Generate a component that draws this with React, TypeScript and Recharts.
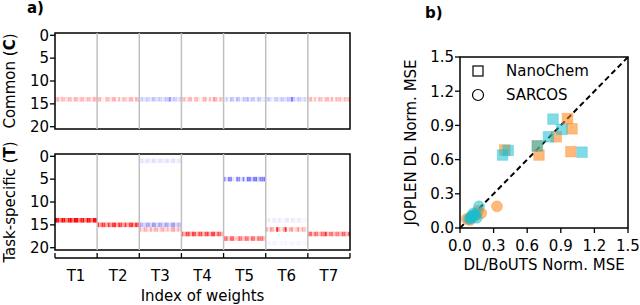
import React from 'react';
import {
  ScatterChart,
  Scatter,
  XAxis,
  YAxis,
  ReferenceArea,
  ReferenceLine,
  Label,
  Legend,
} from 'recharts';

// ---------------- data: panel a (heatmaps) ----------------
const taskLabels = ['T1', 'T2', 'T3', 'T4', 'T5', 'T6', 'T7'];
const colsPerTask = 20;
const rowTicks = [0, 5, 10, 15, 20];
const sectionBounds = [0, 20, 40, 60, 80, 100, 120, 140];
const sectionCenters = [10, 30, 50, 70, 90, 110, 130];
const separators = [20, 40, 60, 80, 100, 120];

type Band = { task: number; row: number; values: number[] };

// common weights (C), row 14 in every task
const commonT1 = [0.22, 0.32, 0.12, 0.3, 0.25, 0.1, 0.3, 0.28, 0.08, 0.3, 0.25, 0.12, 0.3, 0.28, 0.1, 0.3, 0.25, 0.1, 0.3, 0.25];
const commonT2 = [0.25, 0.3, 0.08, 0.05, 0.3, 0.25, 0.1, 0.3, 0.28, 0.05, 0.3, 0.08, 0.3, 0.25, 0.1, 0.28, 0.3, 0.08, 0.3, 0.25];
const commonT3 = [-0.15, -0.22, -0.1, -0.22, -0.18, -0.1, -0.25, -0.18, -0.12, -0.22, -0.18, -0.1, -0.25, -0.2, -0.45, -0.12, -0.22, -0.18, -0.1, -0.2];
const commonT4 = [0.25, 0.3, 0.08, 0.28, 0.3, 0.05, 0.25, 0.3, 0.1, 0.05, 0.3, 0.35, 0.05, 0.28, 0.1, 0.4, 0.3, 0.08, 0.3, 0.2];
const commonT5 = [-0.08, -0.2, -0.05, -0.25, -0.2, -0.08, -0.3, -0.22, -0.05, -0.25, -0.2, -0.3, -0.1, -0.22, -0.2, -0.05, -0.25, -0.2, -0.08, -0.1];
const commonT6 = [-0.15, -0.22, -0.1, -0.05, -0.2, -0.22, -0.1, -0.25, -0.2, -0.12, -0.25, -0.2, -0.5, -0.22, -0.1, -0.25, -0.2, -0.1, -0.18, -0.1];
const commonT7 = [0.2, 0.3, 0.08, 0.25, 0.05, 0.3, 0.25, 0.08, 0.28, 0.3, 0.1, 0.3, 0.05, 0.28, 0.25, 0.3, 0.08, 0.28, 0.2, 0.25];

const commonBands: Band[] = [
  { task: 0, row: 14, values: commonT1 },
  { task: 1, row: 14, values: commonT2 },
  { task: 2, row: 14, values: commonT3 },
  { task: 3, row: 14, values: commonT4 },
  { task: 4, row: 14, values: commonT5 },
  { task: 5, row: 14, values: commonT6 },
  { task: 6, row: 14, values: commonT7 },
];

// task-specific weights (T)
const specT1r14 = [1, 0.9, 0.5, 1, 0.95, 0.5, 0.9, 1, 0.55, 0.95, 1, 0.5, 0.9, 0.95, 0.45, 1, 0.9, 0.5, 0.95, 1];
const specT2r15 = [0.8, 0.4, 0.8, 0.75, 0.35, 0.8, 0.4, 0.75, 0.8, 0.35, 0.8, 0.75, 0.4, 0.8, 0.35, 0.75, 0.8, 0.4, 0.8, 0.7];
const specT3r1 = [-0.08, -0.12, -0.04, -0.12, -0.1, -0.04, -0.12, -0.1, -0.04, -0.1, -0.12, -0.04, -0.1, -0.12, -0.04, -0.1, -0.12, -0.04, -0.08, -0.1];
const specT3r15 = [-0.38, -0.3, -0.15, -0.35, -0.38, -0.15, -0.4, -0.35, -0.15, -0.38, -0.35, -0.15, -0.4, -0.32, -0.15, -0.35, -0.38, -0.15, -0.3, -0.25];
const specT3r16 = [0.32, 0.12, 0.35, 0.3, 0.1, 0.35, 0.12, 0.3, 0.32, 0.1, 0.3, 0.35, 0.12, 0.3, 0.1, 0.32, 0.35, 0.12, 0.3, 0.2];
const specT4r17 = [0.7, 0.3, 0.75, 0.7, 0.3, 0.75, 0.65, 0.3, 0.7, 0.75, 0.3, 0.7, 0.75, 0.3, 0.7, 0.75, 0.3, 0.7, 0.6, 0.3];
const specT5r5 = [-0.5, -0.1, -0.5, -0.45, -0.1, -0.05, -0.5, -0.45, -0.1, -0.5, -0.05, -0.55, -0.5, -0.2, -0.5, -0.55, -0.2, -0.5, -0.5, -0.55];
const specT5r18 = [0.6, 0.6, 0.2, 0.6, 0.6, 0.2, 0.25, 0.6, 0.55, 0.2, 0.6, 0.55, 0.2, 0.6, 0.55, 0.2, 0.6, 0.55, 0.6, 0.2];
const specT6r14 = [-0.04, -0.08, -0.02, -0.06, -0.08, -0.02, -0.1, -0.06, -0.02, -0.08, -0.1, -0.02, -0.08, -0.06, -0.02, -0.08, -0.06, -0.02, -0.03, -0.02];
const specT6r16 = [0.35, 0.1, 0.4, 0.3, 0.1, 0.9, 0.3, 0.1, 0.35, 0.85, 0.1, 0.3, 0.4, 0.1, 0.2, 0.45, 0.1, 0.35, 0.25, 0.1];
const specT6r19 = [-0.03, -0.04, -0.01, -0.03, -0.05, -0.01, -0.02, -0.04, -0.01, -0.05, -0.02, -0.01, -0.04, -0.02, -0.01, -0.05, -0.03, -0.01, -0.03, -0.02];
const specT7r17 = [0.55, 0.6, 0.25, 0.6, 0.55, 0.25, 0.6, 0.55, 0.85, 0.25, 0.5, 0.55, 0.25, 0.5, 0.55, 0.25, 0.65, 0.6, 0.25, 0.6];

const specificBands: Band[] = [
  { task: 0, row: 14, values: specT1r14 },
  { task: 1, row: 15, values: specT2r15 },
  { task: 2, row: 1, values: specT3r1 },
  { task: 2, row: 15, values: specT3r15 },
  { task: 2, row: 16, values: specT3r16 },
  { task: 3, row: 17, values: specT4r17 },
  { task: 4, row: 5, values: specT5r5 },
  { task: 4, row: 18, values: specT5r18 },
  { task: 5, row: 14, values: specT6r14 },
  { task: 5, row: 16, values: specT6r16 },
  { task: 5, row: 19, values: specT6r19 },
  { task: 6, row: 17, values: specT7r17 },
];

// ---------------- data: panel b (scatter) ----------------
const nanoDL = [
  { x: 0.96, y: 0.96 },
  { x: 1.0, y: 0.87 },
  { x: 0.86, y: 0.8 },
  { x: 0.69, y: 0.72 },
  { x: 0.705, y: 0.64 },
  { x: 0.4, y: 0.685 },
  { x: 0.99, y: 0.67 },
];
const nanoBoUTS = [
  { x: 0.83, y: 0.955 },
  { x: 0.91, y: 0.865 },
  { x: 0.79, y: 0.8 },
  { x: 0.69, y: 0.72 },
  { x: 0.38, y: 0.64 },
  { x: 0.43, y: 0.68 },
  { x: 1.09, y: 0.665 },
];
const sarcosDL = [
  { x: 0.06, y: 0.08 },
  { x: 0.1, y: 0.1 },
  { x: 0.14, y: 0.11 },
  { x: 0.19, y: 0.13 },
  { x: 0.16, y: 0.15 },
  { x: 0.33, y: 0.19 },
  { x: 0.09, y: 0.07 },
];
const sarcosBoUTS = [
  { x: 0.08, y: 0.08 },
  { x: 0.1, y: 0.1 },
  { x: 0.12, y: 0.11 },
  { x: 0.14, y: 0.12 },
  { x: 0.15, y: 0.09 },
  { x: 0.17, y: 0.19 },
  { x: 0.12, y: 0.13 },
  { x: 0.1, y: 0.085 },
];
const scatterTicks = [0, 0.3, 0.6, 0.9, 1.2, 1.5];
const legendItems = [
  { name: 'NanoChem', shape: 'square' },
  { name: 'SARCOS', shape: 'circle' },
];

// ---------------- helpers ----------------
const FONT = '"DejaVu Sans", sans-serif';
const ORANGE = '#ff7f0e';
const CYAN = '#17becf';

function bwr(v: number): string {
  const m = Math.min(1, Math.abs(v));
  const c = Math.round(255 * (1 - m));
  return v >= 0 ? `rgb(255,${c},${c})` : `rgb(${c},${c},255)`;
}

function bandCells(bands: Band[]) {
  const out: { x1: number; x2: number; y1: number; y2: number; color: string; key: string }[] = [];
  bands.forEach((b) => {
    b.values.forEach((v, c) => {
      const x1 = b.task * colsPerTask + c;
      out.push({ x1, x2: x1 + 1, y1: b.row - 0.5, y2: b.row + 0.5, color: bwr(v), key: `${b.task}-${b.row}-${c}` });
    });
  });
  return out;
}

const RotatedTitle = (props: any) => {
  const vb = props.viewBox || {};
  const cx = vb.x + props.dx;
  const cy = vb.y + vb.height / 2;
  return (
    <text
      x={cx}
      y={cy}
      transform={`rotate(-90 ${cx} ${cy})`}
      textAnchor="middle"
      fontSize={15}
      fill="#000"
      fontFamily={FONT}
    >
      {props.parts.map((p: any, i: number) => (
        <tspan key={i} fontWeight={p.bold ? 'bold' : 'normal'}>
          {p.t}
        </tspan>
      ))}
    </text>
  );
};

const tickStyle = { fontSize: 15, fill: '#000', fontFamily: FONT };

function Heatmap(props: { bands: Band[]; top: number; bottom: number; title: any[]; withXAxis: boolean }) {
  const cells = bandCells(props.bands);
  return (
    <ScatterChart
      width={640}
      height={305}
      margin={{ top: props.top, right: 290, bottom: props.withXAxis ? 0 : props.bottom, left: 0 }}
    >
      {props.withXAxis ? (
        <XAxis xAxisId="ax1" dataKey="x" type="number" domain={[0, 140]} allowDataOverflow height={8} axisLine={false} tickLine={false} tick={false} />
      ) : (
        <XAxis xAxisId="ax1" dataKey="x" type="number" domain={[0, 140]} allowDataOverflow hide />
      )}
      {props.withXAxis && (
        <XAxis
          xAxisId="ax2"
          dataKey="x"
          type="number"
          domain={[0, 140]}
          allowDataOverflow
          ticks={sectionBounds}
          interval={0}
          height={3}
          tickFormatter={() => ''}
          tickSize={-5}
          axisLine={{ stroke: '#000', strokeWidth: 1.5 }}
          tickLine={{ stroke: '#000', strokeWidth: 1.3 }}
        />
      )}
      {props.withXAxis && (
        <XAxis
          xAxisId="ax3"
          dataKey="x"
          type="number"
          domain={[0, 140]}
          allowDataOverflow
          ticks={sectionCenters}
          interval={0}
          height={44}
          tickFormatter={(v: number) => taskLabels[Math.round((v - 10) / 20)]}
          axisLine={false}
          tickLine={false}
          tickSize={0}
          tickMargin={9}
          tick={tickStyle}
        >
          <Label value="Index of weights" position="insideBottom" offset={4} fontSize={15} fill="#000" fontFamily={FONT} />
        </XAxis>
      )}
      <YAxis
        dataKey="y"
        type="number"
        domain={[-0.5, 20.5]}
        allowDataOverflow
        reversed
        ticks={rowTicks}
        interval={0}
        width={55}
        axisLine={false}
        tickLine={{ stroke: '#000', strokeWidth: 1.3 }}
        tickSize={5}
        tickMargin={1}
        tick={tickStyle}
      >
        <Label content={(p: any) => <RotatedTitle {...p} dx={15} parts={props.title} />} />
      </YAxis>
      {cells.map((c) => (
        <ReferenceArea
          key={c.key}
          xAxisId="ax1"
          x1={c.x1}
          x2={c.x2}
          y1={c.y1}
          y2={c.y2}
          fill={c.color}
          fillOpacity={1}
          stroke="none"
          strokeWidth={0}
        />
      ))}
      {separators.map((s) => (
        <ReferenceLine key={s} xAxisId="ax1" x={s} stroke="#c0c0c0" strokeWidth={1.5} />
      ))}
      <ReferenceArea xAxisId="ax1" x1={0} x2={140} y1={-0.5} y2={20.5} fill="none" stroke="#000" strokeWidth={1.5} />
    </ScatterChart>
  );
}

const SquareMark = (p: any) => (
  <rect x={p.cx - 5.3} y={p.cy - 5.3} width={10.6} height={10.6} fill={p.fill} fillOpacity={0.55} stroke={p.fill} strokeOpacity={0.3} strokeWidth={1} />
);
const CircleMark = (p: any) => (
  <circle cx={p.cx} cy={p.cy} r={5.5} fill={p.fill} fillOpacity={0.55} stroke={p.fill} strokeOpacity={0.3} strokeWidth={1} />
);

const LegendBox = () => (
  <div style={{ fontSize: 15, color: '#000', fontFamily: FONT }}>
    {legendItems.map((it) => (
      <div key={it.name} style={{ display: 'flex', alignItems: 'center', height: 24 }}>
        <svg width={16} height={16}>
          {it.shape === 'square' ? (
            <rect x={3} y={3} width={10} height={10} fill="#fff" stroke="#000" strokeWidth={1.2} />
          ) : (
            <circle cx={8} cy={8} r={5.5} fill="#fff" stroke="#000" strokeWidth={1.2} />
          )}
        </svg>
        <span style={{ marginLeft: 20 }}>{it.name}</span>
      </div>
    ))}
  </div>
);

function ScatterPanel() {
  return (
    <ScatterChart width={640} height={305} margin={{ top: 57, right: 12, bottom: 27, left: 380 }}>
      <XAxis
        type="number"
        dataKey="x"
        domain={[0, 1.5]}
        allowDataOverflow
        ticks={scatterTicks}
        interval={0}
        tickFormatter={(v: number) => v.toFixed(1)}
        height={50}
        axisLine={false}
        tickLine={{ stroke: '#000', strokeWidth: 1.3 }}
        tickSize={5}
        tickMargin={7}
        tick={tickStyle}
      >
        <Label
          content={(p: any) => {
            const vb = p.viewBox || {};
            return (
              <text x={vb.x + vb.width / 2} y={vb.y + 42} textAnchor="middle" fontSize={15} fill="#000" fontFamily={FONT}>
                DL/BoUTS Norm. MSE
              </text>
            );
          }}
        />
      </XAxis>
      <YAxis
        type="number"
        dataKey="y"
        domain={[0, 1.5]}
        allowDataOverflow
        ticks={scatterTicks}
        interval={0}
        tickFormatter={(v: number) => v.toFixed(1)}
        width={80}
        axisLine={false}
        tickLine={{ stroke: '#000', strokeWidth: 1.3 }}
        tickSize={5}
        tickMargin={1}
        tick={tickStyle}
      >
        <Label content={(p: any) => <RotatedTitle {...p} dx={36} parts={[{ t: 'JOPLEN DL Norm. MSE' }]} />} />
      </YAxis>
      <ReferenceLine
        segment={[
          { x: 0, y: 0 },
          { x: 1.5, y: 1.5 },
        ]}
        stroke="#000"
        strokeWidth={2}
        strokeDasharray="5.5 3.5"
      />
      <Scatter name="NanoChem DL" data={nanoDL} fill={ORANGE} shape={SquareMark} isAnimationActive={false} />
      <Scatter name="NanoChem BoUTS" data={nanoBoUTS} fill={CYAN} shape={SquareMark} isAnimationActive={false} />
      <Scatter name="SARCOS DL" data={sarcosDL} fill={ORANGE} shape={CircleMark} isAnimationActive={false} />
      <Scatter name="SARCOS BoUTS" data={sarcosBoUTS} fill={CYAN} shape={CircleMark} isAnimationActive={false} />
      <ReferenceArea x1={0} x2={1.5} y1={0} y2={1.5} fill="none" stroke="#000" strokeWidth={1.5} />
      <Legend
        layout="vertical"
        align="center"
        verticalAlign="middle"
        wrapperStyle={{ left: 470, top: 59, width: 150, height: 48 }}
        content={() => <LegendBox />}
      />
    </ScatterChart>
  );
}

export default function App() {
  const abs: React.CSSProperties = { position: 'absolute', left: 0, top: 0 };
  return (
    <div style={{ position: 'absolute', left: 0, top: 0, width: 640, height: 305, background: '#fff', fontFamily: FONT, overflow: 'hidden' }}>
      <div style={abs}>
        <Heatmap
          bands={commonBands}
          top={33}
          bottom={176}
          withXAxis={false}
          title={[{ t: 'Common (' }, { t: 'C', bold: true }, { t: ')' }]}
        />
      </div>
      <div style={abs}>
        <Heatmap
          bands={specificBands}
          top={154}
          bottom={55}
          withXAxis={true}
          title={[{ t: 'Task-specific (' }, { t: 'T', bold: true }, { t: ')' }]}
        />
      </div>
      <div style={abs}>
        <ScatterPanel />
      </div>
      <svg width={640} height={305} style={{ ...abs, pointerEvents: 'none' }}>
        <text x={27} y={13} fontSize={15} fontWeight="bold" fill="#000" fontFamily={FONT}>a)</text>
        <text x={425} y={18} fontSize={15} fontWeight="bold" fill="#000" fontFamily={FONT}>b)</text>
      </svg>
    </div>
  );
}
